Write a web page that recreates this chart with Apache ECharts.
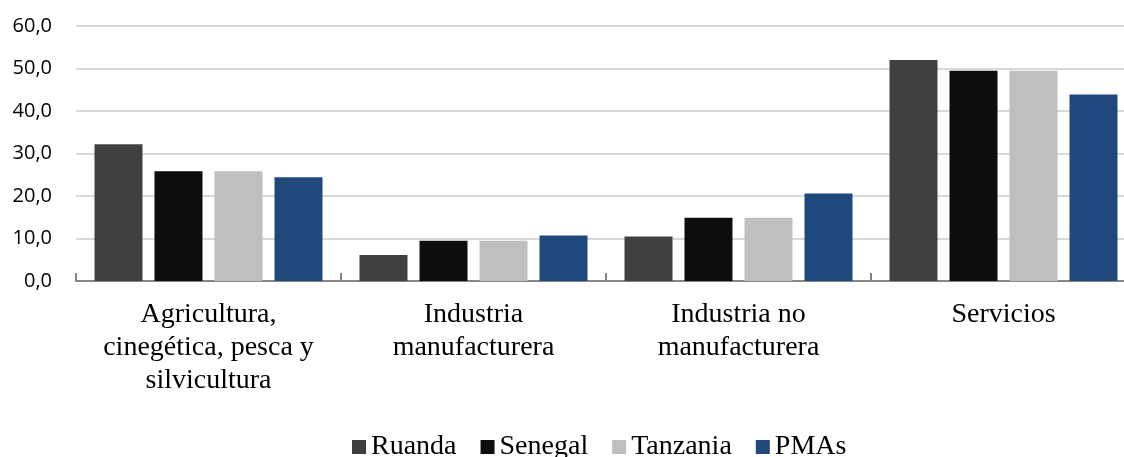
<!DOCTYPE html>
<html>
<head>
<meta charset="utf-8">
<script src="https://cdn.jsdelivr.net/npm/echarts@6/dist/echarts.min.js"></script>
<style>
  html, body { margin: 0; padding: 0; background: #fff; overflow: hidden; }
  #chart { width: 1136px; height: 457px; }
</style>
</head>
<body>
<div id="chart"></div>
<script>
// sectores y valores (%)
var categories = ['Agricultura,\ncinegética, pesca y\nsilvicultura', 'Industria\nmanufacturera', 'Industria no\nmanufacturera', 'Servicios']
var ruanda = [32.2, 6.1, 10.5, 52.0]
var senegal = [25.8, 9.5, 14.9, 49.5]
var tanzania = [25.8, 9.5, 14.9, 49.5]
var pmas = [24.4, 10.7, 20.6, 43.9]
var yTicks = [0, 10, 20, 30, 40, 50, 60]

var serif = '"Liberation Serif", "Times New Roman", serif'

function barSerie (name, data, color) {
  return {
    name: name,
    type: 'bar',
    data: data,
    barWidth: 48,
    barGap: '25%',
    itemStyle: { color: color }
  }
}

// el gráfico original sigue un poco más allá del borde derecho
var myChart = echarts.init(document.getElementById('chart'))
var option = {
  animation: false,
  grid: { left: 76, right: 0, top: 26, bottom: 176 },
  legend: {
    left: 347,
    top: 428,
    itemWidth: 14,
    itemHeight: 14,
    itemGap: 24,
    icon: 'rect',
    textStyle: { fontFamily: serif, fontSize: 28, color: '#000' }
  },
  xAxis: {
    type: 'category',
    data: categories,
    axisLine: { lineStyle: { color: '#868686', width: 2 } },
    axisTick: { show: true, inside: true, length: 8, lineStyle: { color: '#868686', width: 2 } },
    axisLabel: {
      interval: 0,
      margin: 17,
      fontFamily: serif,
      fontSize: 28,
      lineHeight: 33,
      color: '#000',
      align: 'center'
    }
  },
  yAxis: {
    type: 'value',
    min: yTicks[0],
    max: yTicks[yTicks.length - 1],
    interval: 10,
    axisLine: { show: false },
    axisTick: { show: false },
    splitLine: { lineStyle: { color: '#d9d9d9', width: 2 } },
    axisLabel: {
      margin: 24,
      fontFamily: '"Open Sans", "Liberation Sans", sans-serif',
      fontSize: 20,
      color: '#000',
      formatter: function (v) { return v.toFixed(1).replace('.', ',') }
    }
  },
  series: [
    barSerie('Ruanda', ruanda, '#404040'),
    barSerie('Senegal', senegal, '#0d0d0d'),
    barSerie('Tanzania', tanzania, '#bfbfbf'),
    barSerie('PMAs', pmas, '#1f497d')
  ]
}
myChart.setOption(option)
</script>
</body>
</html>
